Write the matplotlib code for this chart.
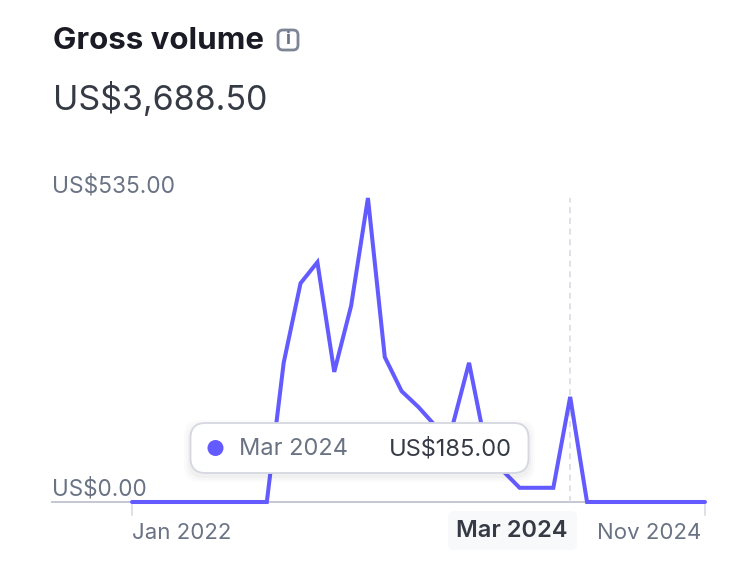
import matplotlib
matplotlib.use('Agg')
import matplotlib.pyplot as plt
from matplotlib import transforms
from matplotlib.patches import FancyBboxPatch, Circle
import numpy as np

plt.rcParams['font.family'] = ['Inter', 'DejaVu Sans']

months = np.arange(35)
volume = [0, 0, 0, 0, 0, 0, 0, 0, 0, 245, 385, 422, 229, 345, 535, 255, 195, 167,
          134, 132, 245, 97, 55, 25, 25, 25, 185, 0, 0, 0, 0, 0, 0, 0, 0]
tick_months = [0, 34]
tick_labels = ['Jan 2022', 'Nov 2024']
selected_month = 26
selected_label = 'Mar 2024'
selected_value = 'US$185.00'
y_labels = ['US$535.00', 'US$0.00']

PURPLE = '#635bff'
GREY = '#6a7383'
DARK = '#353a44'

fig = plt.figure(figsize=(7.38, 5.78), dpi=100)

# reference pixels -> figure, used for the text around the plot
px = transforms.Affine2D().scale(1 / 738, -1 / 578).translate(0, 1) + fig.transFigure

# axes box: left 52, right 705, top 198, bottom 502
ax = fig.add_axes([52 / 738, 1 - 502 / 578, (705 - 52) / 738, (502 - 198) / 578])
dx = (705 - 132) / 34
ax.set_xlim(-(132 - 52) / dx, 34)
ax.set_ylim(0, 535)
ax.axis('off')

ax.axhline(0, color='#c4c7d3', lw=1.4, zorder=1, clip_on=False)
ax.vlines(selected_month - 0.03, 0, 535, color='#d5d8e0', lw=1.1, linestyles=(0, (4, 3)), zorder=1)
ax.plot(months, volume, color=PURPLE, lw=2.9, zorder=2, clip_on=False,
        solid_joinstyle='miter', solid_capstyle='round')

for m in tick_months:
    ax.plot([m, m], [-5, -22], color='#d5d8e0', lw=1.1, clip_on=False, zorder=1)

# header
fig.text(53, 41, 'Gross volume', transform=px, fontsize=22.5, fontweight='bold',
         color='#1a1b25', va='center', ha='left')
fig.text(53, 100, 'US$3,688.50', transform=px, fontsize=24.5, color=DARK, va='center', ha='left')

# info icon
fig.add_artist(FancyBboxPatch((278, 30), 20, 20, boxstyle='round,pad=0,rounding_size=5',
                              transform=px, fc='white', ec='#7d8595', lw=2.0))
fig.text(288, 40, 'i', transform=px, fontsize=13, fontweight='bold', color='#6a7383',
         ha='center', va='center')

# y labels
fig.text(52, 186, y_labels[0], transform=px, fontsize=16.4, color=GREY, va='center', ha='left')
fig.text(52, 489, y_labels[1], transform=px, fontsize=16.2, color=GREY, va='center', ha='left')

# x labels
fig.text(132, 533, tick_labels[0], transform=px, fontsize=16, color=GREY, va='center', ha='left')
fig.text(701, 533, tick_labels[1], transform=px, fontsize=16, color=GREY, va='center', ha='right')
fig.add_artist(FancyBboxPatch((448, 511), 129, 39, boxstyle='round,pad=0,rounding_size=6',
                              transform=px, fc='#f8f9fa', ec='none'))
fig.text(512, 531, selected_label, transform=px, fontsize=17, fontweight='semibold', color=DARK,
         va='center', ha='center', zorder=5)

# tooltip
for grow, alpha in ((6, 0.015), (4, 0.02), (2, 0.03)):
    fig.add_artist(FancyBboxPatch((190 - grow, 423 - grow + 3), 339 + 2 * grow, 50 + 2 * grow,
                                  boxstyle='round,pad=0,rounding_size=16', transform=px,
                                  fc='#30313d', ec='none', alpha=alpha, zorder=5))
fig.add_artist(FancyBboxPatch((190.5, 423), 338, 50, boxstyle='round,pad=0,rounding_size=15',
                              transform=px, fc='white', ec='#d5d8e0', lw=1.3, zorder=6))
fig.add_artist(Circle((215.5, 448), 8, transform=px, fc=PURPLE, ec='none', zorder=7))
fig.text(239, 449, selected_label, transform=px, fontsize=17, color=GREY, va='center', ha='left', zorder=7)
fig.text(512, 449, selected_value, transform=px, fontsize=17, color=DARK, va='center', ha='right', zorder=7)

fig.savefig('out.png', dpi=100)
